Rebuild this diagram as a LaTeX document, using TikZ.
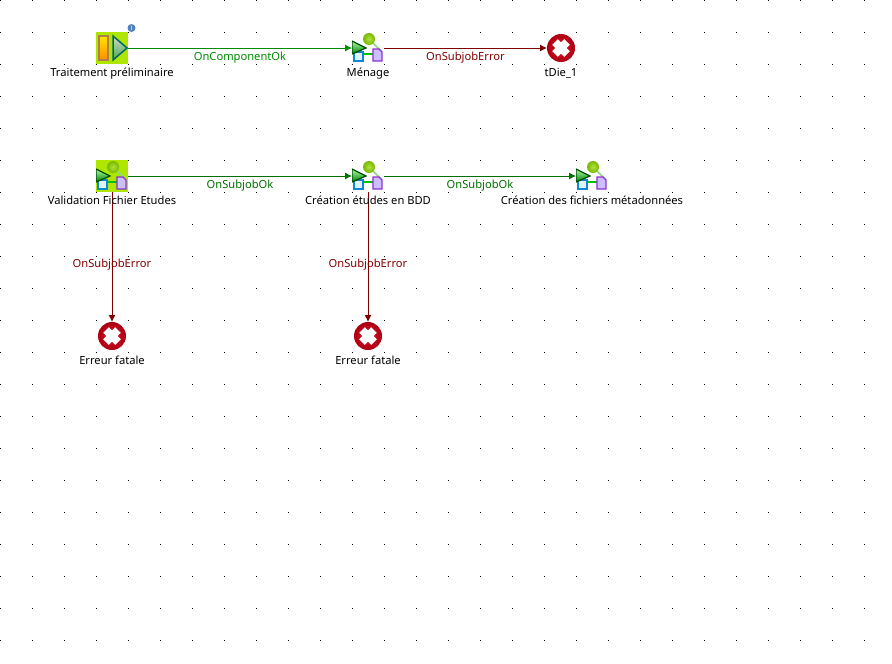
\documentclass[tikz,border=0pt]{standalone}
\usepackage{fontspec}
\setmainfont{Noto Sans}
\usetikzlibrary{arrows.meta}
\definecolor{selgreen}{RGB}{174,230,0}
\definecolor{okgreen}{RGB}{0,110,0}
\definecolor{compgreen}{RGB}{0,140,0}
\definecolor{errred}{RGB}{128,0,0}
\definecolor{ballgreen}{RGB}{120,185,0}
\definecolor{balllight}{RGB}{175,225,60}
\definecolor{docviolet}{RGB}{205,190,255}
\definecolor{docedge}{RGB}{140,50,210}
\definecolor{docblue}{RGB}{225,240,255}
\definecolor{dieface}{RGB}{225,20,35}
\definecolor{dieedge}{RGB}{170,0,20}
\definecolor{infoblue}{RGB}{80,130,185}
\newcommand{\starticon}{
\shade[top color=yellow!90!orange, bottom color=orange, draw=black!45!orange!70, line width=0.03cm] (-13,-12) rectangle (-4,12);
\shade[top color=green!20!gray!35, bottom color=green!50!black!70, draw=teal!80!black, line width=0.03cm] (1,-12) -- (15,0) -- (1,12) -- cycle;
}
\newcommand{\jobicon}{
\draw[gray!50!green!60, line width=0.03cm] (1,-9) -- (13,3);
\draw[green!75!black, line width=0.03cm] (-5,6) -- (5,6);
\filldraw[fill=docblue, draw=cyan!70!blue, line width=0.025cm] (-14,4) rectangle (-5,13);
\filldraw[fill=docviolet, draw=docedge, line width=0.025cm] (5,1) -- (11,1) -- (14,4) -- (14,13) -- (5,13) -- cycle;
\shade[inner color=balllight, outer color=ballgreen] (1,-9) circle (6);
\shade[top color=green!35!white, bottom color=green!50!black, draw=green!30!black, line width=0.025cm] (-16,-7) -- (-2,0) -- (-16,6) -- cycle;
}
\newcommand{\dieicon}{
\shade[inner color=dieface, outer color=dieedge] (0,0) circle (14);
\draw[white, line width=0.16cm] (-6,-6) -- (6,6) (-6,6) -- (6,-6);
}
\tikzset{
startcomp/.style={rectangle, fill=selgreen, minimum size=0.64cm, inner sep=0pt, outer sep=0pt, path picture={\starticon}},
jobcomp/.style={rectangle, minimum size=0.64cm, inner sep=0pt, outer sep=0pt, path picture={\jobicon}},
diecomp/.style={circle, minimum size=0.56cm, inner sep=0pt, outer sep=0pt, path picture={\dieicon}},
complabel/.style={black, anchor=base, font=\fontsize{6.35}{7}\selectfont, inner sep=0pt},
oklink/.style={-{Latex[length=0.14cm,width=0.14cm]}, okgreen, line width=0.02cm},
complink/.style={-{Latex[length=0.14cm,width=0.14cm]}, compgreen, line width=0.02cm},
errlink/.style={-{Latex[length=0.14cm,width=0.14cm]}, errred, line width=0.02cm},
linklabel/.style={anchor=base, font=\fontsize{6.35}{7}\selectfont, inner sep=0pt},
}
\begin{document}
\begin{tikzpicture}[x=0.02cm,y=-0.02cm]
\useasboundingbox (0,0) rectangle (892,663);
\fill[white] (0,0) rectangle (892,663);
\foreach \i in {0,...,27}
  \foreach \j in {0,...,20}
    \fill[black] (32*\i,32*\j) rectangle ++(1,1);

\node[startcomp] (prelim) at (112,48) {};
\node[jobcomp] (menage) at (368,48) {};
\node[diecomp] (tdie) at (561,48) {};
\node[jobcomp, fill=selgreen] (valid) at (112,176) {};
\node[jobcomp] (creabdd) at (368,176) {};
\node[jobcomp] (creameta) at (592,176) {};
\node[diecomp] (die1) at (112,336) {};
\node[diecomp] (die2) at (368,336) {};

\node[circle, fill=infoblue, minimum size=0.16cm, inner sep=0pt, text=white, font=\fontsize{4}{4}\selectfont\bfseries] (info) at (131.5,28) {i};

\draw[complink] (prelim) -- node[linklabel, text=compgreen, yshift=-0.24cm] (lbla) {OnComponentOk} (menage);
\draw[errlink] (menage) -- node[linklabel, text=errred, yshift=-0.24cm] (lblb) {OnSubjobError} (tdie);
\draw[oklink] (valid) -- node[linklabel, text=okgreen, yshift=-0.24cm] (lblc) {OnSubjobOk} (creabdd);
\draw[oklink] (creabdd) -- node[linklabel, text=okgreen, yshift=-0.24cm] (lbld) {OnSubjobOk} (creameta);
\draw[errlink] (valid) -- node[linklabel, text=errred, pos=0.577] (lble) {OnSubjobError} (die1);
\draw[errlink] (creabdd) -- node[linklabel, text=errred, pos=0.577] (lblf) {OnSubjobError} (die2);

\node[complabel] (txtprelim) at (112,76) {Traitement préliminaire};
\node[complabel] (txtmenage) at (368,76) {Ménage};
\node[complabel] (txttdie) at (561,76) {tDie\_1};
\node[complabel] (txtvalid) at (112,204) {Validation Fichier Etudes};
\node[complabel] (txtbdd) at (368,204) {Création études en BDD};
\node[complabel] (txtmeta) at (592,204) {Création des fichiers métadonnées};
\node[complabel] (txtdie1) at (112,364) {Erreur fatale};
\node[complabel] (txtdie2) at (368,364) {Erreur fatale};
\end{tikzpicture}
\end{document}
